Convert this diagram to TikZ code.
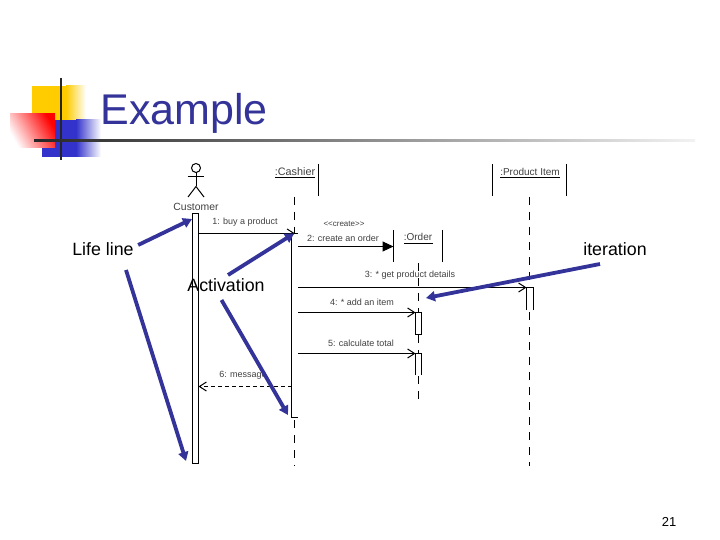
\documentclass[tikz,border=0pt]{standalone}
\usepackage{fontspec}
\setmainfont{Liberation Sans}
\usetikzlibrary{arrows.meta,positioning}
\definecolor{slideblue}{RGB}{51,51,153}
\definecolor{cornerblue}{RGB}{51,51,204}
\definecolor{corneryellow}{RGB}{255,204,0}
\tikzset{
    every picture/.style={line width=1pt},
    calltext/.style={text=black!75, inner sep=0pt, font=\fontsize{9}{10}\selectfont},
    notetext/.style={inner sep=0pt, font=\fontsize{17.8}{20}\selectfont},
    pointer/.style={slideblue, line width=3.8pt, -{Triangle[length=9pt,width=10pt]}},
    callline/.style={-{Straight Barb[length=7pt,width=9pt]}},
    lifeline/.style={dashed, dash pattern=on 8pt off 7pt},
    bar/.style={draw=black, fill=white, line width=1pt}
}

\begin{document}
\begin{tikzpicture}[x=1pt,y=-1pt]
    \useasboundingbox (0,0) rectangle (720,540);

    % slide corner decoration
    \fill[corneryellow] (32,86) rectangle (66,120);
    \shade[left color=corneryellow, right color=white] (66,86) rectangle (86,120);
    \fill[cornerblue] (42,120) rectangle (76,157);
    \shade[left color=cornerblue, right color=white] (76,120) rectangle (101,157);
    \shade[top color=red, bottom color=white, shading angle=-60] (10,114) rectangle (55,148);
    \draw[black!85, line width=2.2pt] (61,78) -- (61,160);
    \shade[left color=black!85, right color=black!5] (34,140) rectangle (695,142);

    % title and page number
    \node[text=slideblue, anchor=base west, inner sep=0pt, font=\fontsize{43}{48}\selectfont] (title) at (100,125) {Example};
    \node[inner sep=0pt, font=\fontsize{13}{15}\selectfont] (pagenum) at (669,522) {21};

    % actor
    \draw (196,168) circle (4.5);
    \draw (196,172.5) -- (196,186.5) (187.5,177) -- (204,177);
    \draw (188,197) -- (196,186.5) -- (204,197);
    \node[calltext, font=\fontsize{10.4}{11}\selectfont] (customer) at (196,207) {Customer};

    % object heads
    \node[calltext, font=\fontsize{10.8}{11}\selectfont] (cashier) at (295,171.5) {:Cashier};
    \draw (275,177.5) -- (315,177.5);
    \draw (318.5,164) -- (318.5,196);
    \node[calltext, font=\fontsize{10}{11}\selectfont] (order) at (418,237) {:Order};
    \draw (404,243.5) -- (433,243.5);
    \draw (393.5,230) -- (393.5,262) (442.5,230) -- (442.5,262);
    \node[calltext, font=\fontsize{10}{11}\selectfont] (item) at (530,171.5) {:Product Item};
    \draw (500,177.5) -- (560,177.5);
    \draw (492.5,164) -- (492.5,196) (566.5,164) -- (566.5,196);

    % life lines
    \draw[lifeline] (294.5,197) -- (294.5,233);
    \draw[lifeline] (294.5,420) -- (294.5,466);
    \draw[lifeline] (418,263) -- (418,312);
    \draw[lifeline] (418,335) -- (418,353);
    \draw[lifeline] (418,376) -- (418,401);
    \draw[lifeline] (529.5,197) -- (529.5,287);
    \draw[lifeline] (529.5,312) -- (529.5,466);

    % activation bars
    \draw[bar] (192.5,214) rectangle (198.5,463);
    \draw (298,233.5) -- (291.5,233.5) -- (291.5,417.5) -- (298,417.5);
    \draw (526.5,310) -- (526.5,287.5) -- (533.5,287.5) -- (533.5,310);
    \draw[bar] (415.5,312.5) rectangle (421.5,334);
    \draw (415.5,375) -- (415.5,353.5) -- (421.5,353.5) -- (421.5,375);

    % call ends
    \coordinate (custout) at (198.5,233.5);
    \coordinate (cashin) at (295,233.5);
    \coordinate (cashtwo) at (298,246.5);
    \coordinate (orderhead) at (393.5,246.5);
    \coordinate (cashthree) at (298,287.5);
    \coordinate (itemin) at (526.5,287.5);
    \coordinate (cashfour) at (298,312.5);
    \coordinate (orderfour) at (415.5,312.5);
    \coordinate (cashfive) at (298,353.5);
    \coordinate (orderfive) at (415.5,353.5);
    \coordinate (cashsix) at (291.5,386.5);
    \coordinate (custin) at (198.5,386.5);

    % calls
    \draw[callline] (custout) -- (cashin);
    \draw[-{Triangle[length=11pt,width=10pt]}] (cashtwo) -- (orderhead);
    \draw[callline] (cashthree) -- (itemin);
    \draw[callline] (cashfour) -- (orderfour);
    \draw[callline] (cashfive) -- (orderfive);
    \draw[callline, dash pattern=on 4pt off 3pt] (cashsix) -- (custin);

    % call labels
    \node[calltext] (buy) at (245,222) {1: buy a product};
    \node[calltext, font=\fontsize{8}{9}\selectfont] (create) at (344,224) {<{}<create>{}>};
    \node[calltext] (createorder) at (343,238) {2: create an order};
    \node[calltext] (details) at (410,275) {3: * get product details};
    \node[calltext] (additem) at (362,302) {4: * add an item};
    \node[calltext] (total) at (361,343) {5: calculate total};
    \node[calltext] (message) at (243,375) {6: message};

    % notes
    \node[notetext] (lifenote) at (103,249) {Life line};
    \node[notetext] (actnote) at (226,285) {Activation};
    \node[notetext] (iternote) at (615,249) {iteration};

    % blue pointers
    \coordinate (lifefrom) at (126,270);
    \coordinate (lifetop) at (192,219);
    \coordinate (lifebot) at (186,461);
    \coordinate (acttop) at (294,233.5);
    \coordinate (actfrom) at (221.5,300);
    \coordinate (actbot) at (288,415);
    \coordinate (iterfrom) at (600,264);
    \coordinate (itertip) at (426,298);
    \coordinate (acttail) at (228,275);
    \draw[pointer] (lifenote.east) ++(4,-4) -- (lifetop);
    \draw[pointer] (lifefrom) -- (lifebot);
    \draw[pointer] (acttail) -- (acttop);
    \draw[pointer] (actfrom) -- (actbot);
    \draw[pointer] (iterfrom) -- (itertip);
\end{tikzpicture}
\end{document}
